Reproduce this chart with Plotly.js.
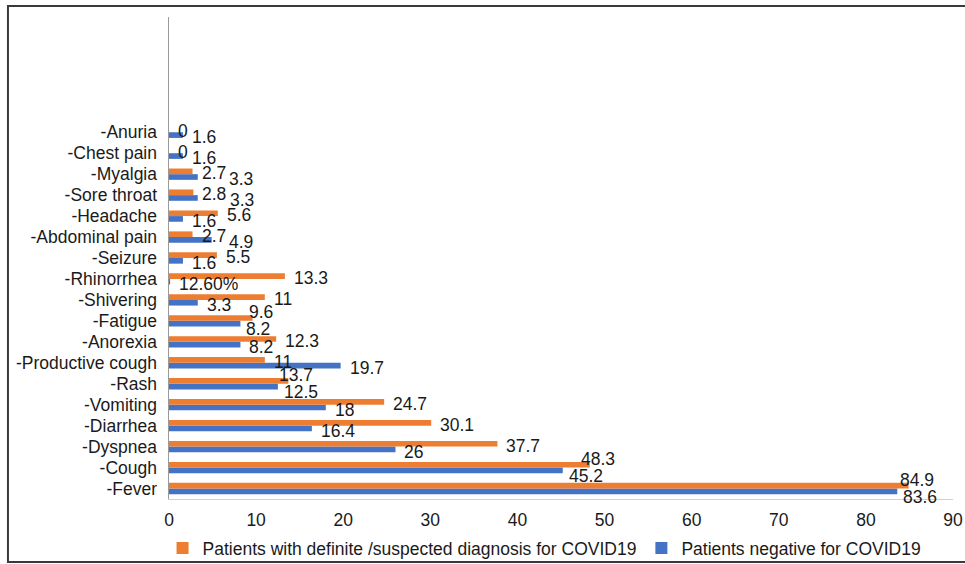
<!DOCTYPE html>
<html>
<head>
<meta charset="utf-8">
<script src="https://cdn.plot.ly/plotly-3.0.1.min.js"></script>
<style>
  html, body { margin: 0; padding: 0; background: #fff; }
  #chart { width: 965px; height: 564px; }
</style>
</head>
<body>
<div id="chart"></div>
<script>
// Categories from bottom to top
const categories = ["-Fever", "-Cough", "-Dyspnea", "-Diarrhea", "-Vomiting", "-Rash",
  "-Productive cough", "-Anorexia", "-Fatigue", "-Shivering", "-Rhinorrhea", "-Seizure",
  "-Abdominal pain", "-Headache", "-Sore throat", "-Myalgia", "-Chest pain", "-Anuria"];

const seriesCovidName = "Patients with definite /suspected diagnosis for COVID19";
const seriesNegName = "Patients negative for COVID19";

const covidValues = [84.9, 48.3, 37.7, 30.1, 24.7, 13.7, 11, 12.3, 9.6, 11, 13.3, 5.5, 2.7, 5.6, 2.8, 2.7, 0, 0];
const negValues   = [83.6, 45.2, 26, 16.4, 18, 12.5, 19.7, 8.2, 8.2, 3.3, 0.126, 1.6, 4.9, 1.6, 3.3, 3.3, 1.6, 1.6];

const covidLabels = ["84.9", "48.3", "37.7", "30.1", "24.7", "13.7", "11", "12.3", "9.6", "11", "13.3", "5.5", "2.7", "5.6", "2.8", "2.7", "0", "0"];
const negLabels   = ["83.6", "45.2", "26", "16.4", "18", "12.5", "19.7", "8.2", "8.2", "3.3", "12.60%", "1.6", "4.9", "1.6", "3.3", "3.3", "1.6", "1.6"];

const xTicks = [0, 10, 20, 30, 40, 50, 60, 70, 80, 90];
const xMax = 90;

const FONT = '"Liberation Sans", Arial, Helvetica, sans-serif';
const FS = 17.5;
const W = 965, H = 564;
const M = { l: 169, r: 12, t: 17, b: 65 };
const COL_COVID = '#ED7D31', COL_NEG = '#4472C4', TXT = '#1a1a1a';

// --- data label placement (Excel-like, avoiding collisions) ---
const ctx = document.createElement('canvas').getContext('2d');
ctx.font = FS + 'px "Liberation Sans"';
const tw = s => ctx.measureText(s).width;
const pxPerUnit = (W - M.l - M.r) / xMax;
const GAP = 8;

const annotations = [];
categories.forEach((cat, i) => {
  const oEnd = covidValues[i] * pxPerUnit, bEnd = negValues[i] * pxPerUnit;
  const oStart = oEnd + GAP, oStop = oStart + tw(covidLabels[i]);
  const bStart = bEnd + GAP, bStop = bStart + tw(negLabels[i]);
  const collide = bStart < oStop && bStop > oStart;
  const base = { xref: 'x', yref: 'y', y: cat, showarrow: false, yanchor: 'middle',
                 font: { family: FONT, size: FS, color: TXT } };
  if (!collide) {
    annotations.push(Object.assign({}, base, { x: covidValues[i], text: covidLabels[i], xanchor: 'left', xshift: GAP - 1, yshift: 1 }));
    annotations.push(Object.assign({}, base, { x: negValues[i], text: negLabels[i], xanchor: 'left', xshift: GAP - 1, yshift: -5 }));
  } else if (negValues[i] < 6) {
    // small bars: push the second label to the right of the first
    annotations.push(Object.assign({}, base, { x: covidValues[i], text: covidLabels[i], xanchor: 'left', xshift: GAP - 1, yshift: 1 }));
    annotations.push(Object.assign({}, base, { x: negValues[i], text: negLabels[i], xanchor: 'left', xshift: (oStop + 2) - bEnd, yshift: -5 }));
  } else {
    // long bars with close ends: separate the labels vertically
    annotations.push(Object.assign({}, base, { x: covidValues[i], text: covidLabels[i], xanchor: 'center', xshift: 8, yshift: 9 }));
    annotations.push(Object.assign({}, base, { x: negValues[i], text: negLabels[i], xanchor: 'left', xshift: 4, yshift: -8 }));
  }
});

const traces = [
  {
    type: 'bar', orientation: 'h', name: seriesNegName,
    y: categories, x: negValues, cliponaxis: false,
    marker: { color: COL_NEG }, legendrank: 2, hoverinfo: 'x+y'
  },
  {
    type: 'bar', orientation: 'h', name: seriesCovidName,
    y: categories, x: covidValues, cliponaxis: false,
    marker: { color: COL_COVID }, legendrank: 1, hoverinfo: 'x+y'
  }
];

const layout = {
  width: W, height: H,
  margin: { l: M.l, r: M.r, t: M.t, b: M.b, pad: 0, autoexpand: false },
  paper_bgcolor: '#ffffff', plot_bgcolor: '#ffffff',
  font: { family: FONT, size: FS, color: TXT },
  barmode: 'group', bargap: 0.46, bargroupgap: 0,
  showlegend: true,
  legend: {
    orientation: 'h', x: 0.479, xanchor: 'center', y: -0.102, yanchor: 'middle',
    font: { family: FONT, size: FS, color: TXT },
    itemwidth: 30, tracegroupgap: 0, bgcolor: 'rgba(0,0,0,0)'
  },
  xaxis: {
    range: [0, xMax], tickmode: 'array', tickvals: xTicks, ticktext: xTicks.map(String),
    showgrid: false, zeroline: false, showline: true, linecolor: '#d0d0d0', linewidth: 1,
    ticks: '', ticklabelstandoff: 5, tickfont: { family: FONT, size: FS, color: TXT },
    fixedrange: true
  },
  yaxis: {
    type: 'category', categoryorder: 'array', categoryarray: categories,
    tickmode: 'array', tickvals: categories, ticktext: categories,
    range: [-0.5, 22.5], showgrid: false, zeroline: false,
    showline: true, linecolor: '#9a9a9a', linewidth: 1.5,
    ticks: '', ticklabelstandoff: 7, tickfont: { family: FONT, size: FS, color: TXT },
    fixedrange: true
  },
  annotations: annotations,
  shapes: [{
    type: 'rect', xref: 'paper', yref: 'paper',
    x0: -0.2054, x1: 1.04, y0: -0.1307, y1: 1.0228,
    line: { color: '#3a3a3a', width: 2 }, fillcolor: 'rgba(0,0,0,0)', layer: 'below'
  }]
};

Plotly.newPlot('chart', traces, layout, { displayModeBar: false, staticPlot: true });
</script>
</body>
</html>
